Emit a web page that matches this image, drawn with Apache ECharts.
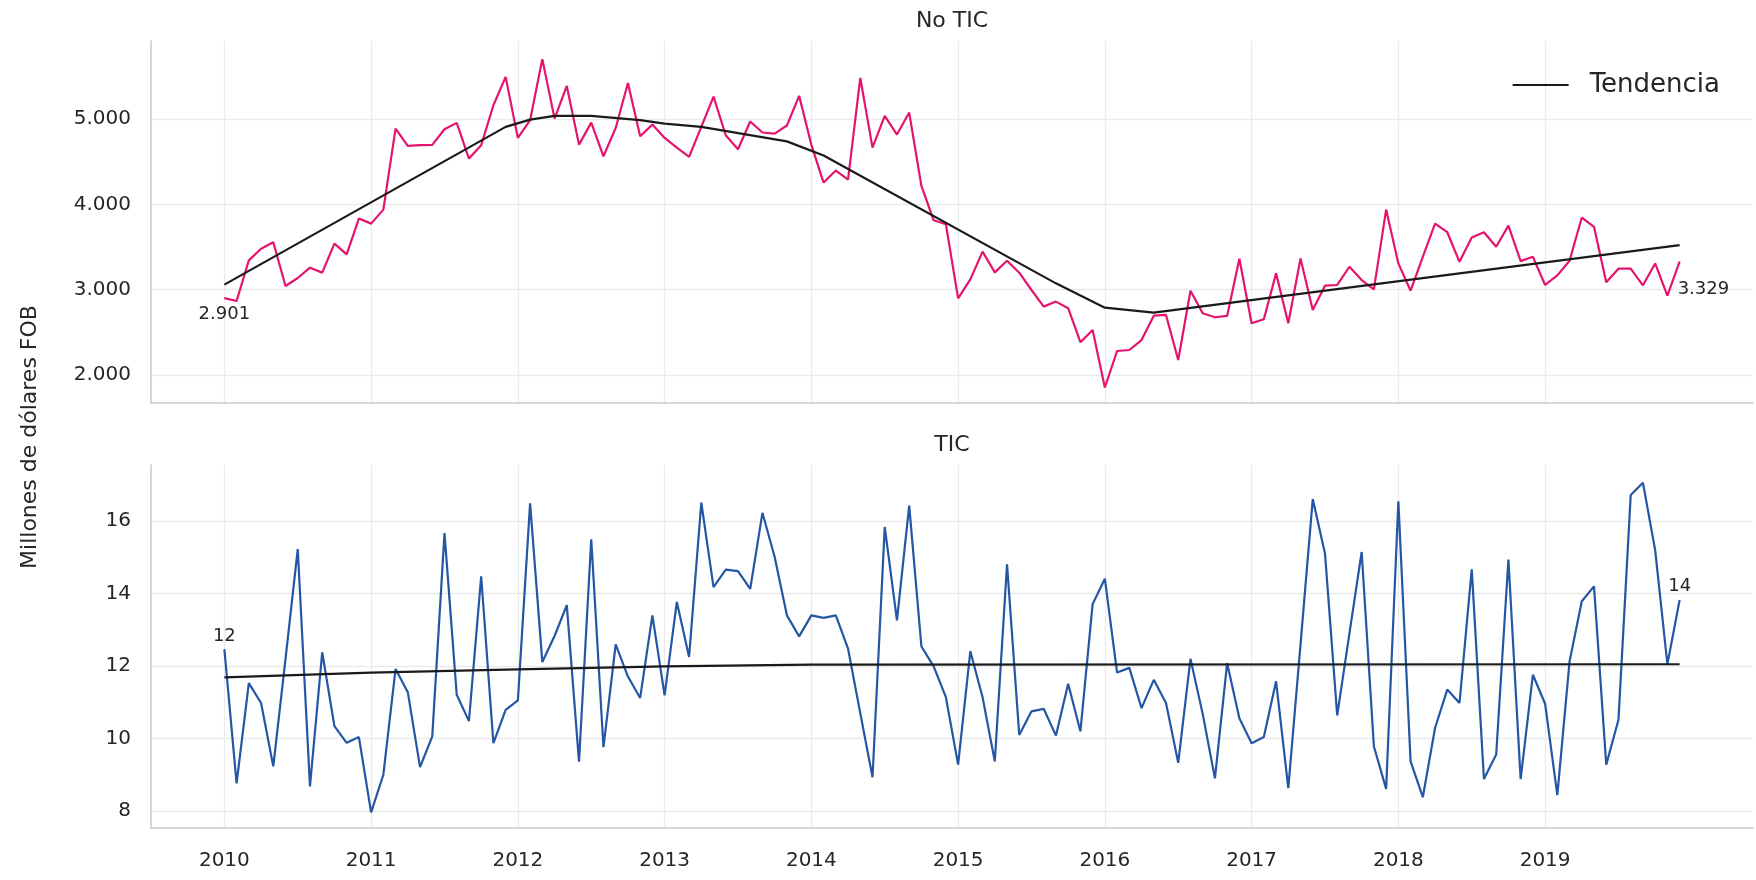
<!DOCTYPE html>
<html>
<head>
<meta charset="utf-8">
<script src="https://cdn.jsdelivr.net/npm/echarts@6/dist/echarts.min.js"></script>
<style>
  html, body { margin: 0; padding: 0; background: #fff; }
  #main { width: 1756px; height: 880px; }
</style>
</head>
<body>
<div id="main"></div>
<script>
// datos mensuales 2010-01 .. 2019-12
var anios = ['2010', '2011', '2012', '2013', '2014', '2015', '2016', '2017', '2018', '2019'];
var mesesNum = ['01', '02', '03', '04', '05', '06', '07', '08', '09', '10', '11', '12'];

// No TIC, millones de dólares FOB
var noTic = [
  2901, 2867, 3344, 3481, 3556, 3043, 3137, 3258, 3200, 3540, 3415, 3834,
  3775, 3939, 4890, 4687, 4695, 4699, 4883, 4957, 4538, 4695, 5164, 5497,
  4781, 4989, 5705, 5008, 5391, 4702, 4960, 4565, 4898, 5426, 4800, 4937,
  4781, 4667, 4558, 4910, 5266, 4812, 4648, 4973, 4844, 4832, 4926, 5274,
  4700, 4257, 4398, 4292, 5485, 4667, 5039, 4820, 5078, 4217, 3814, 3767,
  2898, 3121, 3446, 3203, 3340, 3199, 2996, 2801, 2860, 2782, 2383, 2527,
  1852, 2280, 2292, 2409, 2695, 2703, 2175, 2988, 2723, 2676, 2692, 3363,
  2606, 2653, 3191, 2606, 3366, 2762, 3047, 3055, 3269, 3113, 3004, 3940,
  3308, 2988, 3386, 3776, 3674, 3327, 3612, 3674, 3503, 3752, 3335, 3386,
  3055, 3168, 3339, 3846, 3737, 3086, 3246, 3246, 3051, 3308, 2930, 3329
];

// TIC, millones de dólares FOB
var tic = [
  12.46, 8.76, 11.53, 10.98, 9.23, 12.20, 15.23, 8.68, 12.38, 10.34, 9.88, 10.04,
  7.96, 9.00, 11.92, 11.28, 9.21, 10.06, 15.67, 11.21, 10.48, 14.48, 9.87, 10.79,
  11.05, 16.49, 12.11, 12.83, 13.68, 9.36, 15.50, 9.76, 12.60, 11.71, 11.12, 13.40,
  11.19, 13.77, 12.25, 16.51, 14.18, 14.66, 14.62, 14.13, 16.23, 15.01, 13.40, 12.82,
  13.40, 13.33, 13.40, 12.48, 10.70, 8.93, 15.84, 13.26, 16.43, 12.54, 11.99, 11.14,
  9.28, 12.41, 11.14, 9.37, 14.81, 10.10, 10.75, 10.82, 10.08, 11.51, 10.20, 13.71,
  14.41, 11.82, 11.95, 10.84, 11.62, 10.98, 9.33, 12.20, 10.68, 8.90, 12.08, 10.56,
  9.87, 10.04, 11.58, 8.63, 12.60, 16.61, 15.11, 10.64, 12.90, 15.15, 9.78, 8.61,
  16.55, 9.37, 8.38, 10.29, 11.35, 10.98, 14.67, 8.88, 9.56, 14.94, 8.88, 11.76,
  10.96, 8.44, 12.13, 13.79, 14.20, 9.28, 10.52, 16.72, 17.06, 15.20, 12.05, 13.82
];

// tendencia
var tendNoTicMeses = ['2010-01', '2011-12', '2012-02', '2012-04', '2012-07', '2012-11', '2013-01', '2013-04', '2013-11', '2014-02', '2015-09', '2016-01', '2016-05', '2019-12'];
var tendNoTic = [3059, 4910, 4995, 5039, 5039, 4990, 4949, 4910, 4740, 4575, 3074, 2789, 2731, 3522];
var tendTicMeses = ['2010-01', '2011-01', '2012-01', '2013-01', '2014-01', '2019-12'];
var tendTic = [11.69, 11.82, 11.91, 11.99, 12.04, 12.05];

var colorNoTic = '#e6136e';
var colorTic = '#2356a4';
var texto = '#262626';
var fuente = 'DejaVu Sans';

var meses = [];
anios.forEach(function (a) {
  mesesNum.forEach(function (m) { meses.push(a + '-' + m); });
});
// eje con medio año de margen a cada lado
var categorias = ['2009-07', '2009-08', '2009-09', '2009-10', '2009-11', '2009-12']
  .concat(meses)
  .concat(['2020-01', '2020-02', '2020-03', '2020-04', '2020-05', '2020-06']);

function miles(v) {
  return String(Math.round(v)).replace(/\B(?=(\d{3})+(?!\d))/g, '.');
}
function esEnero(idx, val) {
  return val.slice(5) === '01' && anios.indexOf(val.slice(0, 4)) >= 0;
}

function serieDatos(valores, lblPrimero, lblUltimo) {
  return valores.map(function (v, i) {
    var item = { value: [meses[i], v] };
    if (i === 0) {
      item.symbol = 'circle'; item.symbolSize = 1;
      item.label = lblPrimero;
    } else if (i === valores.length - 1) {
      item.symbol = 'circle'; item.symbolSize = 1;
      item.label = lblUltimo;
    }
    return item;
  });
}
function pares(cats, vals) {
  return cats.map(function (c, i) { return [c, vals[i]]; });
}

var lblBase = { show: true, color: texto, fontFamily: fuente, fontSize: 18 };

var myChart = echarts.init(document.getElementById('main'));

function ejeX(idx, mostrarEtiquetas) {
  return {
    type: 'category', gridIndex: idx, data: categorias, boundaryGap: false,
    axisLine: { show: true, lineStyle: { color: '#cccccc', width: 1.6 } },
    axisTick: { show: false },
    splitLine: { show: true, interval: esEnero, lineStyle: { color: '#ebebeb', width: 1.3 } },
    axisLabel: {
      show: mostrarEtiquetas, interval: esEnero, margin: 23,
      formatter: function (v) { return v.slice(0, 4); },
      color: texto, fontSize: 20, fontFamily: fuente
    }
  };
}
function ejeY(idx, min, max, paso, fmt) {
  return {
    type: 'value', gridIndex: idx, min: min, max: max,
    minInterval: paso, maxInterval: paso,
    axisLine: { show: true, lineStyle: { color: '#cccccc', width: 1.6 } },
    axisTick: { show: false },
    splitLine: { show: true, showMinLine: false, showMaxLine: false, lineStyle: { color: '#ebebeb', width: 1.3 } },
    axisLabel: {
      margin: 20, color: texto, fontSize: 20, fontFamily: fuente,
      formatter: function (v) { return Math.abs(v / paso - Math.round(v / paso)) < 1e-6 ? fmt(v) : ''; }
    }
  };
}

option = {
  animation: false,
  backgroundColor: '#ffffff',
  textStyle: { fontFamily: fuente },
  grid: [
    { left: 151, right: 3, top: 41, height: 362 },
    { left: 151, right: 3, top: 465, height: 363 }
  ],
  legend: {
    data: ['Tendencia'], right: 31, top: 67,
    icon: 'rect', itemWidth: 56, itemHeight: 2,
    itemStyle: { color: '#1a1a1a' },
    textStyle: { color: texto, fontSize: 26, fontFamily: fuente, padding: [0, 0, 0, 16] }
  },
  graphic: [
    { type: 'text', x: 952, y: 21, style: { text: 'No TIC', fill: texto, font: '22px "DejaVu Sans"', align: 'center', verticalAlign: 'middle' } },
    { type: 'text', x: 952, y: 445, style: { text: 'TIC', fill: texto, font: '22px "DejaVu Sans"', align: 'center', verticalAlign: 'middle' } },
    { type: 'text', x: 30, y: 437, rotation: Math.PI / 2, style: { text: 'Millones de dólares FOB', fill: texto, font: '22px "DejaVu Sans"', align: 'center', verticalAlign: 'middle' } }
  ],
  xAxis: [ejeX(0, false), ejeX(1, true)],
  yAxis: [
    ejeY(0, 1670, 5918, 1000, miles),
    ejeY(1, 7.53, 17.55, 2, function (v) { return String(Math.round(v)); })
  ],
  series: [
    {
      name: 'No TIC', type: 'line', xAxisIndex: 0, yAxisIndex: 0,
      symbol: 'none', showSymbol: true, showAllSymbol: true,
      lineStyle: { color: colorNoTic, width: 2.2 }, itemStyle: { color: colorNoTic },
      data: serieDatos(noTic,
        Object.assign({}, lblBase, { position: 'bottom', distance: 7, formatter: function (p) { return miles(p.value[1]); } }),
        Object.assign({}, lblBase, { position: 'bottom', align: 'left', distance: 18, offset: [-2, 0], formatter: function (p) { return miles(p.value[1]); } })),
      z: 2
    },
    {
      name: 'Tendencia', type: 'line', xAxisIndex: 0, yAxisIndex: 0,
      symbol: 'none', lineStyle: { color: '#1a1a1a', width: 2.2 }, itemStyle: { color: '#1a1a1a' },
      data: pares(tendNoTicMeses, tendNoTic), z: 3
    },
    {
      name: 'TIC', type: 'line', xAxisIndex: 1, yAxisIndex: 1,
      symbol: 'none', showSymbol: true, showAllSymbol: true,
      lineStyle: { color: colorTic, width: 2.2 }, itemStyle: { color: colorTic },
      data: serieDatos(tic,
        Object.assign({}, lblBase, { position: 'top', distance: 4, formatter: function (p) { return String(Math.round(p.value[1])); } }),
        Object.assign({}, lblBase, { position: 'top', distance: 4, formatter: function (p) { return String(Math.round(p.value[1])); } })),
      z: 2
    },
    {
      name: 'Tendencia', type: 'line', xAxisIndex: 1, yAxisIndex: 1,
      symbol: 'none', lineStyle: { color: '#1a1a1a', width: 2.2 }, itemStyle: { color: '#1a1a1a' },
      data: pares(tendTicMeses, tendTic), z: 3
    }
  ]
};

myChart.setOption(option);
</script>
</body>
</html>
